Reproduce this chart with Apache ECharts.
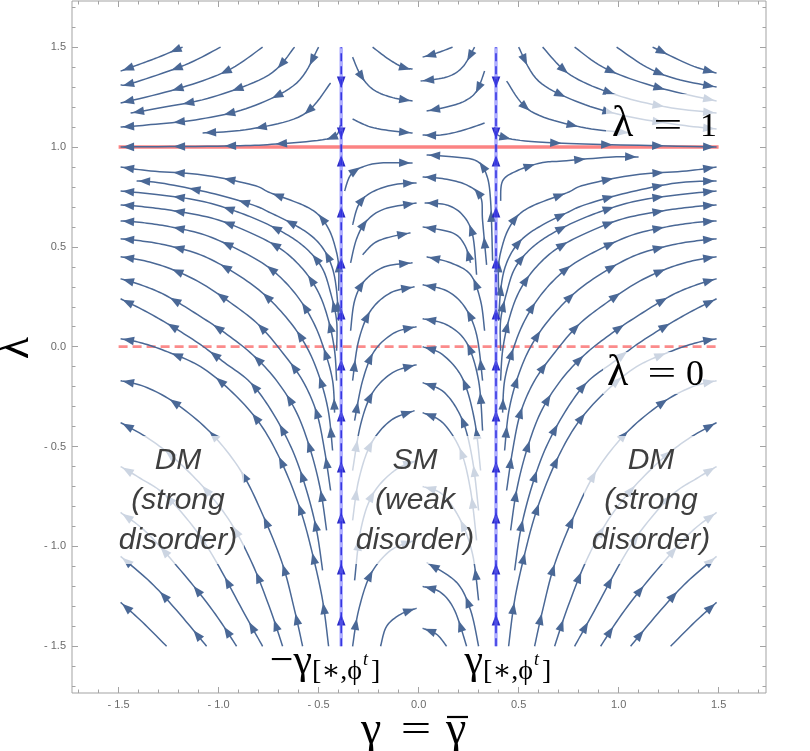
<!DOCTYPE html>
<html>
<head>
<meta charset="utf-8">
<script src="https://cdn.jsdelivr.net/npm/echarts@6/dist/echarts.min.js"></script>
<style>
html,body{margin:0;padding:0;background:#fff}
#main{width:810px;height:751px}
</style>
</head>
<body>
<div id="main"></div>
<script>
// streamlines, [gamma, lambda] points in the direction of the flow
const topLeftLines = [
  [[-1.18,1.50],[-1.30,1.45],[-1.38,1.42],[-1.49,1.38]],
  [[-0.99,1.50],[-1.17,1.41],[-1.43,1.32],[-1.49,1.31]],
  [[-0.78,1.50],[-0.96,1.38],[-1.21,1.29],[-1.49,1.22]],
  [[-0.62,1.50],[-0.75,1.36],[-1.03,1.25],[-1.27,1.20],[-1.44,1.17]],
  [[-0.50,1.50],[-0.61,1.32],[-0.84,1.20],[-1.09,1.14],[-1.36,1.11],[-1.49,1.10]],
  [[-0.44,1.32],[-0.58,1.16],[-0.84,1.09],[-1.08,1.07]],
  [[-0.39,1.11],[-0.44,1.045],[-0.71,1.015],[-0.96,1.005],[-1.49,1.0]]
];
const topRightLines = [
  [[1.17,1.50],[1.36,1.41],[1.49,1.37]],
  [[0.99,1.50],[1.14,1.40],[1.29,1.34],[1.49,1.30]],
  [[0.78,1.50],[0.94,1.39],[1.19,1.30],[1.49,1.23]],
  [[0.62,1.50],[0.76,1.36],[0.99,1.26],[1.24,1.20],[1.49,1.17]],
  [[0.50,1.50],[0.60,1.33],[0.81,1.22],[1.06,1.15],[1.31,1.11],[1.49,1.09]],
  [[0.44,1.33],[0.56,1.18],[0.81,1.10],[1.06,1.07]],
  [[0.38,1.10],[0.42,1.05],[0.69,1.02],[1.49,1.0]]
];
const topMiddleLines = [
  [[-0.33,1.45],[-0.29,1.36],[-0.23,1.29],[-0.14,1.25],[-0.03,1.23]],
  [[-0.23,1.50],[-0.15,1.44],[-0.08,1.40],[-0.03,1.39]],
  [[0.17,1.50],[0.09,1.47],[0.02,1.45]],
  [[0.28,1.50],[0.22,1.40],[0.14,1.35],[0.01,1.33]],
  [[0.33,1.38],[0.29,1.28],[0.23,1.23],[0.14,1.20],[0.04,1.18]],
  [[-0.33,1.14],[-0.24,1.10],[-0.13,1.08],[-0.03,1.07]],
  [[0.33,1.12],[0.21,1.08],[0.11,1.06],[0.02,1.06]]
];
const leftDMLines = [
  [[-1.26,-1.50],[-1.38,-1.38],[-1.49,-1.28]],
  [[-1.06,-1.50],[-1.21,-1.32],[-1.34,-1.18],[-1.49,-1.05]],
  [[-0.91,-1.50],[-1.03,-1.32],[-1.19,-1.12],[-1.36,-0.93],[-1.49,-0.83]],
  [[-0.78,-1.50],[-0.88,-1.32],[-1.01,-1.08],[-1.12,-0.91],[-1.27,-0.74],[-1.39,-0.66],[-1.49,-0.60]],
  [[-0.68,-1.50],[-0.74,-1.32],[-0.83,-1.09],[-0.94,-0.88],[-1.07,-0.71],[-1.22,-0.56],[-1.35,-0.46],[-1.49,-0.38]],
  [[-0.58,-1.50],[-0.62,-1.32],[-0.68,-1.09],[-0.78,-0.84],[-0.89,-0.62],[-1.04,-0.43],[-1.22,-0.28],[-1.37,-0.20],[-1.49,-0.17]],
  [[-0.45,-1.50],[-0.48,-1.27],[-0.53,-1.04],[-0.59,-0.82],[-0.68,-0.59],[-0.79,-0.39],[-0.93,-0.23],[-1.09,-0.10],[-1.27,-0.02],[-1.39,0.02],[-1.49,0.04]],
  [[-0.48,-1.12],[-0.51,-0.92],[-0.56,-0.72],[-0.63,-0.52],[-0.73,-0.33],[-0.84,-0.18],[-0.97,-0.08],[-1.09,0.01],[-1.23,0.10],[-1.37,0.18],[-1.49,0.24]],
  [[-0.46,-0.92],[-0.49,-0.72],[-0.54,-0.52],[-0.61,-0.33],[-0.71,-0.17],[-0.83,-0.04],[-0.97,0.07],[-1.12,0.17],[-1.27,0.26],[-1.39,0.31],[-1.49,0.34]],
  [[-0.44,-0.72],[-0.47,-0.52],[-0.51,-0.33],[-0.58,-0.17],[-0.68,-0.03],[-0.80,0.11],[-0.94,0.22],[-1.09,0.32],[-1.24,0.39],[-1.37,0.43],[-1.49,0.45]],
  [[-0.43,-0.52],[-0.45,-0.33],[-0.49,-0.17],[-0.55,-0.02],[-0.64,0.12],[-0.77,0.26],[-0.92,0.37],[-1.09,0.46],[-1.27,0.51],[-1.39,0.53],[-1.49,0.54]],
  [[-0.42,-0.33],[-0.43,-0.17],[-0.47,-0.02],[-0.53,0.13],[-0.62,0.27],[-0.74,0.39],[-0.89,0.48],[-1.07,0.56],[-1.24,0.60],[-1.37,0.62],[-1.49,0.63]],
  [[-0.41,-0.17],[-0.42,-0.02],[-0.45,0.13],[-0.50,0.27],[-0.58,0.39],[-0.69,0.49],[-0.84,0.57],[-1.02,0.64],[-1.22,0.68],[-1.37,0.70],[-1.49,0.71]],
  [[-0.41,-0.02],[-0.41,0.13],[-0.44,0.27],[-0.48,0.39],[-0.55,0.48],[-0.64,0.55],[-0.77,0.62],[-0.92,0.68],[-1.09,0.73],[-1.29,0.76],[-1.49,0.78]],
  [[-0.40,0.13],[-0.41,0.28],[-0.43,0.39],[-0.47,0.48],[-0.53,0.55],[-0.62,0.61],[-0.74,0.67],[-0.83,0.71],[-1.04,0.77],[-1.29,0.82],[-1.41,0.83]],
  [[-0.40,0.28],[-0.40,0.41],[-0.42,0.51],[-0.45,0.59],[-0.50,0.66],[-0.58,0.71],[-0.74,0.77],[-0.83,0.81],[-1.08,0.86],[-1.34,0.88],[-1.49,0.90]]
];
const rightDMLines = [
  [[1.26,-1.50],[1.38,-1.38],[1.49,-1.28]],
  [[1.06,-1.50],[1.21,-1.32],[1.34,-1.18],[1.49,-1.05]],
  [[0.91,-1.50],[1.03,-1.32],[1.19,-1.12],[1.36,-0.93],[1.49,-0.83]],
  [[0.78,-1.50],[0.88,-1.32],[1.01,-1.08],[1.12,-0.91],[1.27,-0.74],[1.39,-0.66],[1.49,-0.60]],
  [[0.68,-1.50],[0.74,-1.32],[0.83,-1.09],[0.94,-0.88],[1.07,-0.71],[1.22,-0.56],[1.35,-0.46],[1.49,-0.38]],
  [[0.58,-1.50],[0.62,-1.32],[0.68,-1.09],[0.78,-0.84],[0.89,-0.62],[1.04,-0.43],[1.22,-0.28],[1.37,-0.20],[1.49,-0.17]],
  [[0.45,-1.50],[0.48,-1.27],[0.53,-1.04],[0.59,-0.82],[0.68,-0.59],[0.79,-0.39],[0.93,-0.23],[1.09,-0.10],[1.27,-0.02],[1.39,0.02],[1.49,0.04]],
  [[0.48,-1.12],[0.51,-0.92],[0.56,-0.72],[0.63,-0.52],[0.73,-0.33],[0.84,-0.18],[0.97,-0.08],[1.09,0.01],[1.23,0.10],[1.37,0.18],[1.49,0.24]],
  [[0.46,-0.92],[0.49,-0.72],[0.54,-0.52],[0.61,-0.33],[0.71,-0.17],[0.83,-0.04],[0.97,0.07],[1.12,0.17],[1.27,0.26],[1.39,0.31],[1.49,0.34]],
  [[0.44,-0.72],[0.47,-0.52],[0.51,-0.33],[0.58,-0.17],[0.68,-0.03],[0.80,0.11],[0.94,0.22],[1.09,0.32],[1.24,0.39],[1.37,0.43],[1.49,0.45]],
  [[0.43,-0.52],[0.45,-0.33],[0.49,-0.17],[0.55,-0.02],[0.64,0.12],[0.77,0.26],[0.92,0.37],[1.09,0.46],[1.27,0.51],[1.39,0.53],[1.49,0.54]],
  [[0.42,-0.33],[0.43,-0.17],[0.47,-0.02],[0.53,0.13],[0.62,0.27],[0.74,0.39],[0.89,0.48],[1.07,0.56],[1.24,0.60],[1.37,0.62],[1.49,0.63]],
  [[0.41,-0.17],[0.42,-0.02],[0.45,0.13],[0.50,0.27],[0.58,0.39],[0.69,0.49],[0.84,0.57],[1.02,0.64],[1.22,0.68],[1.37,0.70],[1.49,0.71]],
  [[0.41,-0.02],[0.41,0.13],[0.44,0.27],[0.48,0.39],[0.55,0.48],[0.64,0.55],[0.77,0.62],[0.92,0.68],[1.09,0.73],[1.29,0.76],[1.49,0.78]],
  [[0.40,0.13],[0.41,0.28],[0.43,0.39],[0.47,0.48],[0.53,0.55],[0.62,0.61],[0.74,0.67],[0.83,0.71],[1.04,0.77],[1.29,0.82],[1.49,0.83]],
  [[0.40,0.28],[0.40,0.41],[0.42,0.51],[0.45,0.59],[0.50,0.66],[0.58,0.71],[0.74,0.77],[0.83,0.81],[1.08,0.86],[1.34,0.88],[1.49,0.90]],
  [[0.41,0.73],[0.42,0.83],[0.49,0.88],[0.61,0.92],[0.72,0.93],[0.97,0.95],[1.10,0.95]]
];
const middleLeftLines = [
  [[-0.37,0.78],[-0.34,0.86],[-0.28,0.90],[-0.19,0.92],[-0.03,0.92]],
  [[-0.33,0.61],[-0.30,0.71],[-0.24,0.77],[-0.13,0.81],[-0.01,0.82]],
  [[-0.34,0.42],[-0.31,0.54],[-0.26,0.63],[-0.17,0.69],[-0.01,0.72]],
  [[-0.28,0.46],[-0.22,0.52],[-0.14,0.55],[-0.04,0.57]],
  [[-0.34,0.08],[-0.32,0.23],[-0.27,0.33],[-0.17,0.40],[-0.03,0.42]],
  [[-0.33,-0.17],[-0.30,0.03],[-0.24,0.18],[-0.14,0.27],[-0.02,0.30]],
  [[-0.32,-0.37],[-0.28,-0.17],[-0.22,-0.02],[-0.12,0.07],[-0.01,0.10]],
  [[-0.33,-0.62],[-0.29,-0.39],[-0.23,-0.23],[-0.13,-0.13],[-0.01,-0.09]],
  [[-0.33,-0.87],[-0.30,-0.67],[-0.24,-0.49],[-0.14,-0.37],[-0.02,-0.32]],
  [[-0.32,-1.17],[-0.29,-0.92],[-0.23,-0.74],[-0.12,-0.62],[-0.01,-0.57]],
  [[-0.33,-1.50],[-0.30,-1.32],[-0.24,-1.14],[-0.14,-1.02],[-0.02,-0.97]],
  [[-0.19,-1.50],[-0.16,-1.40],[-0.09,-1.34],[-0.01,-1.31]]
];
const middleRightLines = [
  [[0.37,0.43],[0.36,0.73],[0.34,0.86],[0.29,0.93],[0.18,0.95],[0.04,0.96]],
  [[0.34,0.41],[0.32,0.63],[0.31,0.75],[0.24,0.81],[0.13,0.84],[0.02,0.85]],
  [[0.29,0.36],[0.27,0.56],[0.22,0.66],[0.14,0.71],[0.03,0.72]],
  [[0.26,0.42],[0.23,0.51],[0.17,0.57],[0.02,0.60]],
  [[0.33,0.08],[0.31,0.23],[0.26,0.36],[0.16,0.42],[0.04,0.45]],
  [[0.32,-0.17],[0.29,0.06],[0.23,0.20],[0.14,0.28],[0.02,0.31]],
  [[0.32,-0.42],[0.30,-0.17],[0.24,0.02],[0.14,0.11],[0.02,0.14]],
  [[0.31,-0.62],[0.28,-0.37],[0.22,-0.16],[0.12,-0.04],[0.02,0.00]],
  [[0.30,-0.82],[0.27,-0.57],[0.22,-0.37],[0.13,-0.23],[0.02,-0.18]],
  [[0.29,-0.97],[0.26,-0.72],[0.21,-0.52],[0.12,-0.38],[0.02,-0.33]],
  [[0.30,-1.27],[0.27,-1.04],[0.21,-0.87],[0.12,-0.74],[0.02,-0.70]],
  [[0.30,-1.50],[0.26,-1.32],[0.19,-1.18],[0.04,-1.08]],
  [[0.24,-1.50],[0.18,-1.32],[0.11,-1.23],[0.02,-1.20]],
  [[0.14,-1.50],[0.09,-1.44],[0.02,-1.41]]
];
// fixed lines gamma = -/+ gamma*, flowing towards lambda = 1
const gammaStar = 0.387;
const fixedLineFlows = [
  [[-gammaStar,-1.5],[-gammaStar,0.97]],
  [[-gammaStar,1.5],[-gammaStar,1.03]],
  [[gammaStar,-1.5],[gammaStar,0.97]],
  [[gammaStar,1.5],[gammaStar,1.03]]
];
const majorTicks = [-1.5,-1.0,-0.5,0.0,0.5,1.0,1.5];
const minorTicks = [-1.7,-1.6,-1.4,-1.3,-1.2,-1.1,-0.9,-0.8,-0.7,-0.6,-0.4,-0.3,-0.2,-0.1,
  0.1,0.2,0.3,0.4,0.6,0.7,0.8,0.9,1.1,1.2,1.3,1.4,1.6,1.7];

const streams = []
  .concat(topLeftLines, topRightLines, topMiddleLines, leftDMLines, rightDMLines, middleLeftLines, middleRightLines)
  .map(p => ({ pts: p, star: false }))
  .concat(fixedLineFlows.map(p => ({ pts: p, star: true })));

const STREAM = '#4a6896';
const STAR = '#2a2ac6';
const GRAY = '#a3a3a3';

// smooth the read points in pixel space
function spline (pts) {
  if (pts.length < 3) return pts;
  const out = [];
  for (let i = 0; i < pts.length - 1; i++) {
    const p0 = pts[i - 1] || pts[i], p1 = pts[i], p2 = pts[i + 1], p3 = pts[i + 2] || pts[i + 1];
    for (let k = 0; k < 10; k++) {
      const t = k / 10, t2 = t * t, t3 = t2 * t;
      const f = j => 0.5 * (2 * p1[j] + (-p0[j] + p2[j]) * t + (2 * p0[j] - 5 * p1[j] + 4 * p2[j] - p3[j]) * t2 + (-p0[j] + 3 * p1[j] - 3 * p2[j] + p3[j]) * t3);
      out.push([f(0), f(1)]);
    }
  }
  out.push(pts[pts.length - 1]);
  return out;
}

function pointAt (pts, cum, s) {
  let i = 1;
  while (i < cum.length - 1 && cum[i] < s) i++;
  const a = pts[i - 1], b = pts[i];
  const seg = cum[i] - cum[i - 1] || 1;
  const t = Math.max(0, Math.min(1, (s - cum[i - 1]) / seg));
  return [a[0] + (b[0] - a[0]) * t, a[1] + (b[1] - a[1]) * t];
}

function renderStream (params, api) {
  const s = streams[params.dataIndex];
  const px = spline(s.pts.map(p => api.coord(p)));
  const cum = [0];
  for (let i = 1; i < px.length; i++) {
    cum.push(cum[i - 1] + Math.hypot(px[i][0] - px[i - 1][0], px[i][1] - px[i - 1][1]));
  }
  const total = cum[cum.length - 1];
  const color = s.star ? STAR : STREAM;
  const children = [];
  if (!s.star) {
    children.push({
      type: 'polyline',
      shape: { points: px },
      style: { stroke: color, lineWidth: 1.5, fill: null }
    });
  }
  for (let d = total - 8; d > 5; d -= 51) {
    const p = pointAt(px, cum, d);
    const a = pointAt(px, cum, d - 3), b = pointAt(px, cum, Math.min(total, d + 3));
    let dx = b[0] - a[0], dy = b[1] - a[1];
    const n = Math.hypot(dx, dy) || 1;
    dx /= n; dy /= n;
    const tip = [p[0] + dx * 6, p[1] + dy * 6];
    const base = [p[0] - dx * 5.5, p[1] - dy * 5.5];
    children.push({
      type: 'polygon',
      shape: { points: [tip, [base[0] - dy * 4.3, base[1] + dx * 4.3], [base[0] + dy * 4.3, base[1] - dx * 4.3]] },
      style: { fill: color }
    });
  }
  return { type: 'group', children };
}

const tickFmt = v => (v < 0 ? '- ' + Math.abs(v).toFixed(1) : v.toFixed(1));

function axisPair (kind, pos, labelled) {
  const common = {
    type: 'value', position: pos, splitLine: { show: false },
    axisLine: { show: false, onZero: false }
  };
  if (kind === 'x') { common.min = -1.733; common.max = 1.737; } else { common.min = -1.734; common.max = 1.731; }
  return [
    Object.assign({}, common, {
      axisTick: { show: true, inside: true, length: 6, customValues: majorTicks, lineStyle: { color: GRAY } },
      axisLabel: labelled
        ? { show: true, customValues: majorTicks, formatter: tickFmt, color: '#6b6b6b', fontSize: 11, fontFamily: 'Liberation Sans', margin: 6 }
        : { show: false }
    }),
    Object.assign({}, common, {
      axisTick: { show: true, inside: true, length: 3.5, customValues: minorTicks, lineStyle: { color: GRAY } },
      axisLabel: { show: false }
    })
  ];
}

const chart = echarts.init(document.getElementById('main'));

const serif = '"Liberation Serif", "DejaVu Serif", serif';
const sans = 'italic 30px "Liberation Sans", Arial, sans-serif';
const box = (x, y, w, h) => ({ type: 'rect', z: 100, shape: { x, y, width: w, height: h }, style: { fill: 'rgba(255,255,255,0.72)' } });
const txt = (x, y, text, font, align, extra) => Object.assign({
  type: 'text', z: 101, x, y,
  style: { text, font, fill: '#000', align: align || 'left', verticalAlign: 'middle' }
}, extra || {});
const region = (x, text) => ({
  type: 'text', z: 101, x, y: 501,
  style: { text, font: sans, fill: '#3f3f3f', align: 'center', verticalAlign: 'middle', lineHeight: 40 }
});

chart.setOption({
  animation: false,
  grid: { left: 72, right: 44, top: 1, bottom: 58, show: true, borderColor: GRAY, borderWidth: 1, backgroundColor: 'transparent' },
  xAxis: axisPair('x', 'bottom', true).concat(axisPair('x', 'top', false)),
  yAxis: axisPair('y', 'left', true).concat(axisPair('y', 'right', false)),
  series: [
    {
      type: 'line', z: 1, symbol: 'none', silent: true,
      data: [[-1.5, 1], [1.5, 1]],
      lineStyle: { color: 'rgba(250,100,100,0.8)', width: 3.5 }
    },
    {
      type: 'line', z: 1, symbol: 'none', silent: true,
      data: [[-1.5, 0], [1.5, 0]],
      lineStyle: { color: 'rgba(250,100,100,0.75)', width: 2.8, type: [9, 5] }
    },
    {
      type: 'custom', z: 2, silent: true,
      data: streams.map((s, i) => [0, 0, i]),
      renderItem: renderStream
    },
    {
      type: 'line', z: 3, symbol: 'none', silent: true,
      data: [[-gammaStar, -1.5], [-gammaStar, 1.5]],
      lineStyle: { color: 'rgba(110,110,255,0.55)', width: 3.5 }
    },
    {
      type: 'line', z: 3, symbol: 'none', silent: true,
      data: [[gammaStar, -1.5], [gammaStar, 1.5]],
      lineStyle: { color: 'rgba(110,110,255,0.55)', width: 3.5 }
    },
    {
      type: 'line', z: 4, symbol: 'none', silent: true,
      data: [[-gammaStar, -1.5], [-gammaStar, 1.5]],
      lineStyle: { color: '#3030e0', width: 1.5, type: [8, 5] }
    },
    {
      type: 'line', z: 4, symbol: 'none', silent: true,
      data: [[gammaStar, -1.5], [gammaStar, 1.5]],
      lineStyle: { color: '#3030e0', width: 1.5, type: [8, 5] }
    }
  ],
  graphic: [
    box(606, 94, 116, 47),
    box(603, 352, 117, 42),
    box(112, 436, 132, 128),
    box(349, 436, 133, 128),
    box(584, 436, 134, 128),
    txt(612, 124, 'λ', '44px ' + serif),
    txt(668, 127, '=', '34px ' + serif, 'center', { scaleX: 1.5 }),
    txt(700, 127, '1', '34px ' + serif),
    txt(607, 373, 'λ', '44px ' + serif),
    txt(662, 375, '=', '34px ' + serif, 'center', { scaleX: 1.5 }),
    txt(686, 376, '0', '36px ' + serif),
    txt(312, 662, '−γ', '42px ' + serif, 'right'),
    txt(312, 672, '[∗,ϕ', '28px ' + serif),
    txt(363, 660, 't', 'italic 18px ' + serif),
    txt(371, 672, ']', '28px ' + serif),
    txt(483, 662, 'γ', '42px ' + serif, 'right'),
    txt(483, 672, '[∗,ϕ', '28px ' + serif),
    txt(534, 660, 't', 'italic 18px ' + serif),
    txt(542, 672, ']', '28px ' + serif),
    txt(361, 731, 'γ', '46px ' + serif),
    txt(416, 731, '=', '40px ' + serif, 'center', { scaleX: 1.35 }),
    txt(446, 731, 'γ', '46px ' + serif),
    { type: 'line', z: 101, shape: { x1: 447, y1: 717, x2: 468, y2: 717 }, style: { stroke: '#000', lineWidth: 2.2 } },
    { type: 'text', z: 101, x: 16, y: 348, rotation: Math.PI / 2,
      style: { text: 'λ', font: '46px ' + serif, fill: '#000', align: 'center', verticalAlign: 'middle' } },
    region(178, 'DM\n(strong\ndisorder)'),
    region(415, 'SM\n(weak\ndisorder)'),
    region(651, 'DM\n(strong\ndisorder)')
  ]
});
</script>
</body>
</html>
